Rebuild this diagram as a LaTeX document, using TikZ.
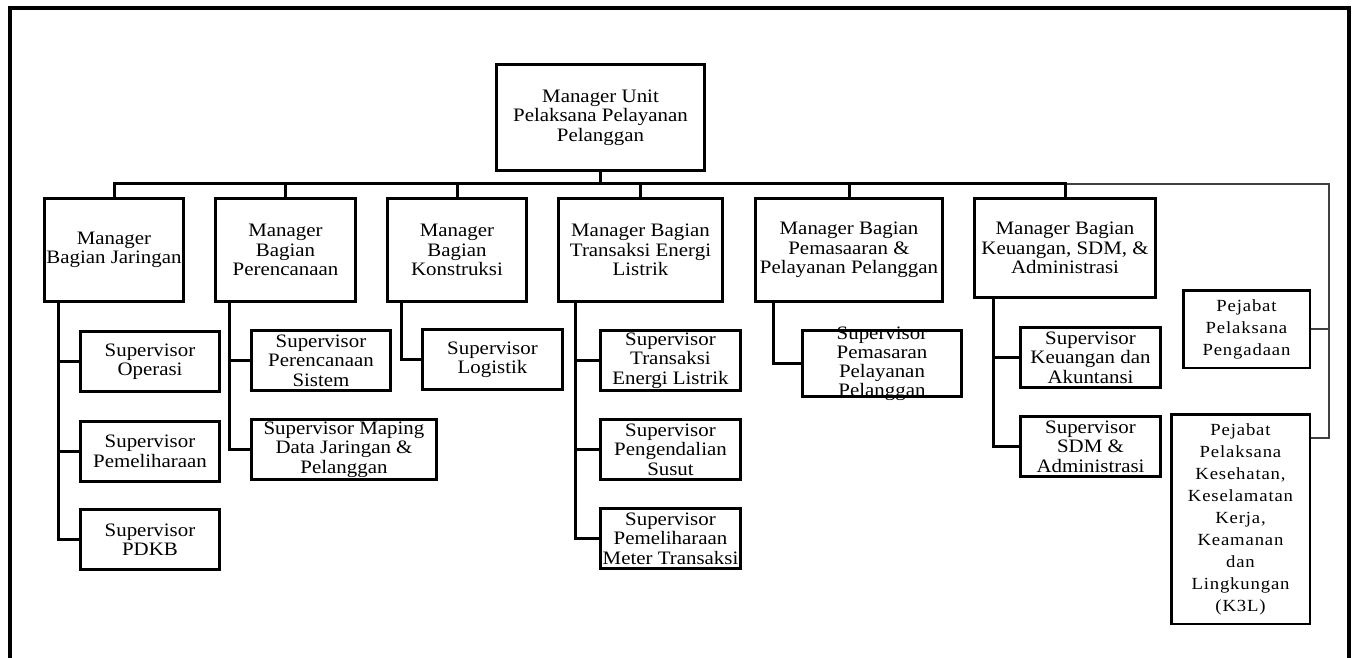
\documentclass[tikz,border=0pt]{standalone}
\usepackage{fontspec}
\setmainfont[FakeStretch=1.1]{Liberation Serif}
\newfontfamily\pjfont[FakeStretch=1.1,LetterSpace=5]{Liberation Serif}
\begin{document}
\begin{tikzpicture}[x=1pt,y=-1pt,
  mbox/.style={draw, line width=3pt, align=center, inner sep=0pt, fill=white,
    font=\fontsize{19}{19.4}\selectfont},
  pjbox/.style={draw, line width=2.5pt, align=center, inner sep=0pt, fill=white,
    font=\pjfont\fontsize{17}{22}\selectfont},
  conn/.style={line width=3pt},
  thinconn/.style={line width=1.5pt, black!75},
  frameline/.style={line width=3.5pt}]
\useasboundingbox (0,0) rectangle (1353,658);
\draw[frameline] (10,670) -- (10,8) -- (1349,8) -- (1349,670);

% top
\node[mbox, minimum width=208pt, minimum height=106pt] (top) at (600.5,117.5) {Manager Unit\\Pelaksana Pelayanan\\Pelanggan};
% managers
\node[mbox, minimum width=139pt, minimum height=103pt] (m1) at (114,250) {Manager\\Bagian Jaringan};
\node[mbox, minimum width=140pt, minimum height=103pt] (m2) at (285.5,250) {Manager\\Bagian\\Perencanaan};
\node[mbox, minimum width=139pt, minimum height=103pt] (m3) at (457,250) {Manager\\Bagian\\Konstruksi};
\node[mbox, minimum width=164pt, minimum height=103pt] (m4) at (640.5,250) {Manager Bagian\\Transaksi Energi\\Listrik};
\node[mbox, minimum width=187pt, minimum height=103pt] (m5) at (849,250) {Manager Bagian\\Pemasaaran \&\\Pelayanan Pelanggan};
\node[mbox, minimum width=181pt, minimum height=99pt] (m6) at (1065,248) {Manager Bagian\\Keuangan, SDM, \&\\Administrasi};

% supervisors
\node[mbox, minimum width=139pt, minimum height=60pt] (s11) at (150,361.5) {Supervisor\\Operasi};
\node[mbox, minimum width=139pt, minimum height=60pt] (s12) at (150,451.5) {Supervisor\\Pemeliharaan};
\node[mbox, minimum width=139pt, minimum height=60pt] (s13) at (150,539.5) {Supervisor\\PDKB};
\node[mbox, minimum width=139pt, minimum height=60pt] (s21) at (321,360.5) {Supervisor\\Perencanaan\\Sistem};
\node[mbox, minimum width=185pt, minimum height=60pt] (s22) at (344,449.5) {Supervisor Maping\\Data Jaringan \&\\Pelanggan};
\node[mbox, minimum width=140pt, minimum height=60pt] (s31) at (492.5,359.5) {Supervisor\\Logistik};
\node[mbox, minimum width=140pt, minimum height=60pt] (s41) at (670.5,360.5) {Supervisor\\Transaksi\\Energi Listrik};
\node[mbox, minimum width=140pt, minimum height=60pt] (s42) at (670.5,449.5) {Supervisor\\Pengendalian\\Susut};
\node[mbox, minimum width=140pt, minimum height=60pt] (s43) at (670.5,538.5) {Supervisor\\Pemeliharaan\\Meter Transaksi};
\node[align=center, inner sep=0pt, font=\fontsize{19}{19}\selectfont] (s51t) at (882,363.5) {Supervisor\\Pemasaran\\Pelayanan\\Pelanggan};
\node[mbox, fill=none, minimum width=159pt, minimum height=66pt] (s51) at (s51t) {};
\node[mbox, minimum width=140pt, minimum height=60pt] (s61) at (1090.5,357.5) {Supervisor\\Keuangan dan\\Akuntansi};
\node[mbox, minimum width=140pt, minimum height=60pt] (s62) at (1090.5,446.5) {Supervisor\\SDM \&\\Administrasi};

% pejabat
\node[pjbox, minimum width=126.5pt, minimum height=77.5pt] (pj1) at (1246.5,329) {Pejabat\\Pelaksana\\Pengadaan};
\node[pjbox, minimum width=138.5pt, minimum height=209.5pt] (pj2) at (1240.5,519) {Pejabat\\Pelaksana\\Kesehatan,\\Keselamatan\\Kerja,\\Keamanan\\dan\\Lingkungan\\(K3L)};

% bus
\coordinate (bus) at (600,184);
\coordinate (rail) at (1329,184);
\draw[thinconn] (m6.north |- bus) -- (rail) |- ([yshift=-25pt]pj2.north east);
\draw[thinconn] (pj1.east) -- (pj1.east -| rail);
\draw[conn] (top.south) -- (top.south |- bus);
\draw[conn] (m1.north) -- (m1.north |- bus) -- (m6.north |- bus) -- (m6.north);
\foreach \m in {m2,m3,m4,m5} \draw[conn] (\m.north) -- (\m.north |- bus);

% trunks
\coordinate (t1) at ([xshift=15pt]m1.south west);
\coordinate (t2) at ([xshift=15pt]m2.south west);
\coordinate (t3) at ([xshift=15pt]m3.south west);
\coordinate (t4) at ([xshift=18pt]m4.south west);
\coordinate (t5) at ([xshift=19pt]m5.south west);
\coordinate (t6) at ([xshift=20pt]m6.south west);
\draw[conn] (t1) |- (s13.west);
\draw[conn] (t1 |- s11.west) -- (s11.west);
\draw[conn] (t1 |- s12.west) -- (s12.west);
\draw[conn] (t2) |- (s22.west);
\draw[conn] (t2 |- s21.west) -- (s21.west);
\draw[conn] (t3) |- (s31.west);
\draw[conn] (t4) |- (s43.west);
\draw[conn] (t4 |- s41.west) -- (s41.west);
\draw[conn] (t4 |- s42.west) -- (s42.west);
\draw[conn] (t5) |- (s51.west);
\draw[conn] (t6) |- (s62.west);
\draw[conn] (t6 |- s61.west) -- (s61.west);
\end{tikzpicture}
\end{document}
